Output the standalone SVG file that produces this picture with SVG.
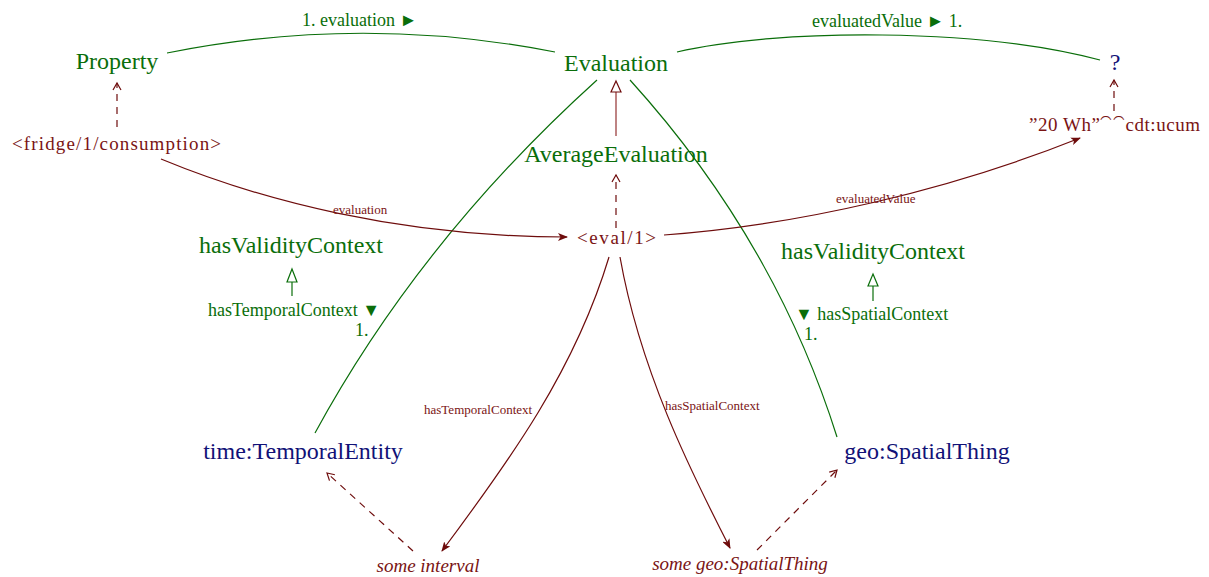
<svg xmlns="http://www.w3.org/2000/svg" width="1209" height="577" viewBox="0 0 1209 577" font-family="'Liberation Serif', 'Times New Roman', 'DejaVu Serif', serif">
<style>
text{font-family:'Liberation Serif','Times New Roman','DejaVu Serif',serif}
.g{fill:#0a6e0a}
.r{fill:#7a1414}
.b{fill:#111177}
.big{font-size:24px}
.mid{font-size:18px}
.med{font-size:19px}
.sm{font-size:13px}
.it{font-style:italic}
.gl{fill:none;stroke:#0a6e0a;stroke-width:1.2}
.rl{fill:none;stroke:#6e0c0c;stroke-width:1.2}
.rd{fill:none;stroke:#6e0c0c;stroke-width:1.2;stroke-dasharray:7,6}
</style>
<defs>
<marker id="fill" markerWidth="10" markerHeight="8" refX="9" refY="4" orient="auto" markerUnits="userSpaceOnUse">
<path d="M0,0 L10,4 L0,8 L2.5,4 Z" fill="#6e0c0c"/>
</marker>
<marker id="open" markerWidth="10" markerHeight="10" refX="8" refY="5" orient="auto" markerUnits="userSpaceOnUse">
<path d="M1,1 L8,5 L1,9" fill="none" stroke="#6e0c0c" stroke-width="1.2"/>
</marker>
</defs>
<g id="connectors">
<path class="gl" d="M167,53 Q360,14 555,52"/>
<path class="gl" d="M677,52 C780,28 980,28 1100,60"/>
<path class="gl" d="M597,80 Q420,240 315,433"/>
<path class="gl" d="M630,80 Q775,240 837,437"/>
<line x1="616" y1="92" x2="616" y2="136" stroke="#a85a5a" stroke-width="1.5"/>
<path d="M616,81 L621,92 L611,92 Z" fill="#fff" stroke="#6e0c0c" stroke-width="1.2"/>
<line x1="292" y1="282" x2="292" y2="296" class="gl"/>
<path d="M292,269 L297,282 L287,282 Z" fill="#fff" stroke="#0a6e0a" stroke-width="1.2"/>
<line x1="873" y1="286" x2="873" y2="301" class="gl"/>
<path d="M873,274 L878,286 L868,286 Z" fill="#fff" stroke="#0a6e0a" stroke-width="1.2"/>
<path class="rd" d="M117,127 L117,83" marker-end="url(#open)"/>
<path class="rd" d="M616,228 L616,175" marker-end="url(#open)"/>
<path class="rd" d="M1114,111 L1114,80" marker-end="url(#open)"/>
<path class="rd" d="M413,551 L327,473" marker-end="url(#open)"/>
<path class="rd" d="M757,550 L837,470" marker-end="url(#open)"/>
<path class="rl" d="M161,159 C260,200 400,237 567,237" marker-end="url(#fill)"/>
<path class="rl" d="M664,235 C800,225 950,190 1080,138" marker-end="url(#fill)"/>
<path class="rl" d="M609,257 C575,370 510,460 442,551" marker-end="url(#fill)"/>
<path class="rl" d="M620,257 C640,370 690,470 730,548" marker-end="url(#fill)"/>
<text class="g mid" x="302" y="26">1. evaluation ►</text>
<text class="g mid" x="812" y="27">evaluatedValue ► 1.</text>
<text class="r sm" x="333" y="214">evaluation</text>
<text class="r sm" x="836" y="203">evaluatedValue</text>
<text class="r sm" x="424" y="414">hasTemporalContext</text>
<text class="r sm" x="665" y="410">hasSpatialContext</text>
<text class="g mid" x="380" y="316" text-anchor="end">hasTemporalContext ▼</text>
<text class="g mid" x="355" y="336">1.</text>
<text class="g mid" x="795" y="320">▼ hasSpatialContext</text>
<text class="g mid" x="804" y="340">1.</text>
</g>
<g id="property"><text class="g big" x="117" y="69" text-anchor="middle">Property</text></g>
<g id="evaluation"><text class="g big" x="616" y="71" text-anchor="middle">Evaluation</text></g>
<g id="unknown"><text class="b big" x="1115" y="70" text-anchor="middle">?</text></g>
<g id="fridge"><text class="r med" x="12" y="150" textLength="209" lengthAdjust="spacing">&lt;fridge/1/consumption&gt;</text></g>
<g id="averageEvaluation"><text class="g big" x="616" y="162" text-anchor="middle">AverageEvaluation</text></g>
<g id="literal"><text class="r med" x="1029" y="131" textLength="171" lengthAdjust="spacing">”20 Wh”⁀⁀cdt:ucum</text></g>
<g id="eval1"><text class="r med" x="577" y="244" textLength="79" lengthAdjust="spacing">&lt;eval/1&gt;</text></g>
<g id="hasValidityContextLeft"><text class="g big" x="291" y="253" text-anchor="middle">hasValidityContext</text></g>
<g id="hasValidityContextRight"><text class="g big" x="873" y="259" text-anchor="middle">hasValidityContext</text></g>
<g id="temporalEntity"><text class="b big" x="303" y="459" text-anchor="middle">time:TemporalEntity</text></g>
<g id="spatialThing"><text class="b big" x="927" y="459" text-anchor="middle">geo:SpatialThing</text></g>
<g id="someInterval"><text class="r med it" x="428" y="572" text-anchor="middle">some interval</text></g>
<g id="someSpatialThing"><text class="r med it" x="740" y="570" text-anchor="middle">some geo:SpatialThing</text></g>
</svg>
